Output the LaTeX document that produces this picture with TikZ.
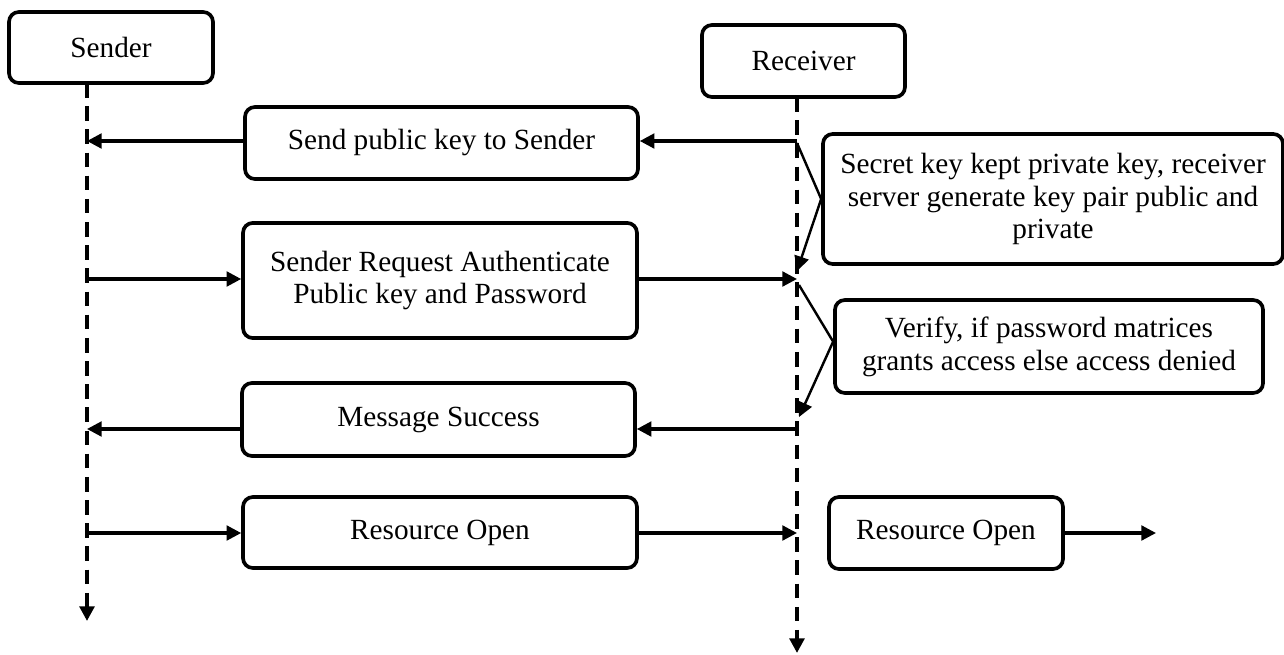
\documentclass[tikz,border=0pt]{standalone}
\usepackage{fontspec}
\setmainfont{Liberation Serif}
\usetikzlibrary{arrows.meta}

\begin{document}
\begin{tikzpicture}[x=0.41pt, y=-0.41pt,
	every node/.style={font=\fontsize{12}{13.5}\selectfont},
	msgbox/.style={draw, line width=1.5pt, rounded corners=4pt, inner sep=0pt, align=center},
	lifeline/.style={line width=1.5pt, dash pattern=on 6pt off 3.5pt, -{Triangle[length=6pt,width=6pt]}},
	msg/.style={line width=1.3pt, -{Triangle[length=6pt,width=6pt]}},
	note/.style={line width=1pt, -{Triangle[length=6pt,width=6pt]}}]
	\useasboundingbox (0,0) rectangle (1284,655);
	\node[msgbox, minimum width=83.6pt, minimum height=29.1pt] (sender) at (111,47.5) {Sender};
	\node[msgbox, minimum width=83.2pt, minimum height=29.5pt] (receiver) at (803.5,61) {Receiver};
	\node[msgbox, minimum width=161.1pt, minimum height=29.5pt] (pubkey) at (441.5,143) {Send public key to Sender};
	\node[msgbox, minimum width=161.5pt, minimum height=47.2pt] (request) at (440,280.5) {Sender Request Authenticate\\Public key and Password};
	\node[msgbox, minimum width=188.6pt, minimum height=53.3pt] (secret) at (1053,199) {Secret key kept private key, receiver\\server generate key pair public and\\private};
	\node[msgbox, minimum width=175.5pt, minimum height=38.1pt] (verify) at (1049,346.5) {Verify, if password matrices\\grants access else access denied};
	\node[msgbox, minimum width=161.1pt, minimum height=29.9pt] (success) at (438.5,419.5) {Message Success};
	\node[msgbox, minimum width=161.5pt, minimum height=29.1pt] (resource) at (440,532.5) {Resource Open};
	\node[msgbox, minimum width=95.9pt, minimum height=29.5pt] (resourceB) at (946,533) {Resource Open};
	\coordinate (sTop) at (87,83);
	\coordinate (sEnd) at (87,621);
	\coordinate (rTop) at (797,97);
	\coordinate (rEnd) at (797,653);
	\coordinate (s1) at (87,141);
	\coordinate (s2) at (87,279);
	\coordinate (s3) at (87,429);
	\coordinate (s4) at (87,533);
	\coordinate (r1) at (797,141);
	\coordinate (r2) at (797,279);
	\coordinate (r3) at (797,429);
	\coordinate (r4) at (797,533);
	\coordinate (out) at (1156,533);
	\draw[lifeline] (sTop) -- (sEnd);
	\draw[lifeline] (rTop) -- (rEnd);
	\draw[msg] (r1) -- (r1 -| pubkey.east);
	\draw[msg] (s1 -| pubkey.west) -- (s1);
	\draw[msg] (s2) -- (s2 -| request.west);
	\draw[msg] (r2 -| request.east) -- (r2);
	\draw[note] (797,143) -- (secret.west) -- (797,271);
	\draw[note] (799,285) -- ([yshift=2pt]verify.west) -- (799,417);
	\draw[msg] (r3) -- (r3 -| success.east);
	\draw[msg] (s3 -| success.west) -- (s3);
	\draw[msg] (s4) -- (s4 -| resource.west);
	\draw[msg] (r4 -| resource.east) -- (r4);
	\draw[msg] (resourceB.east) -- (out);
\end{tikzpicture}
\end{document}
